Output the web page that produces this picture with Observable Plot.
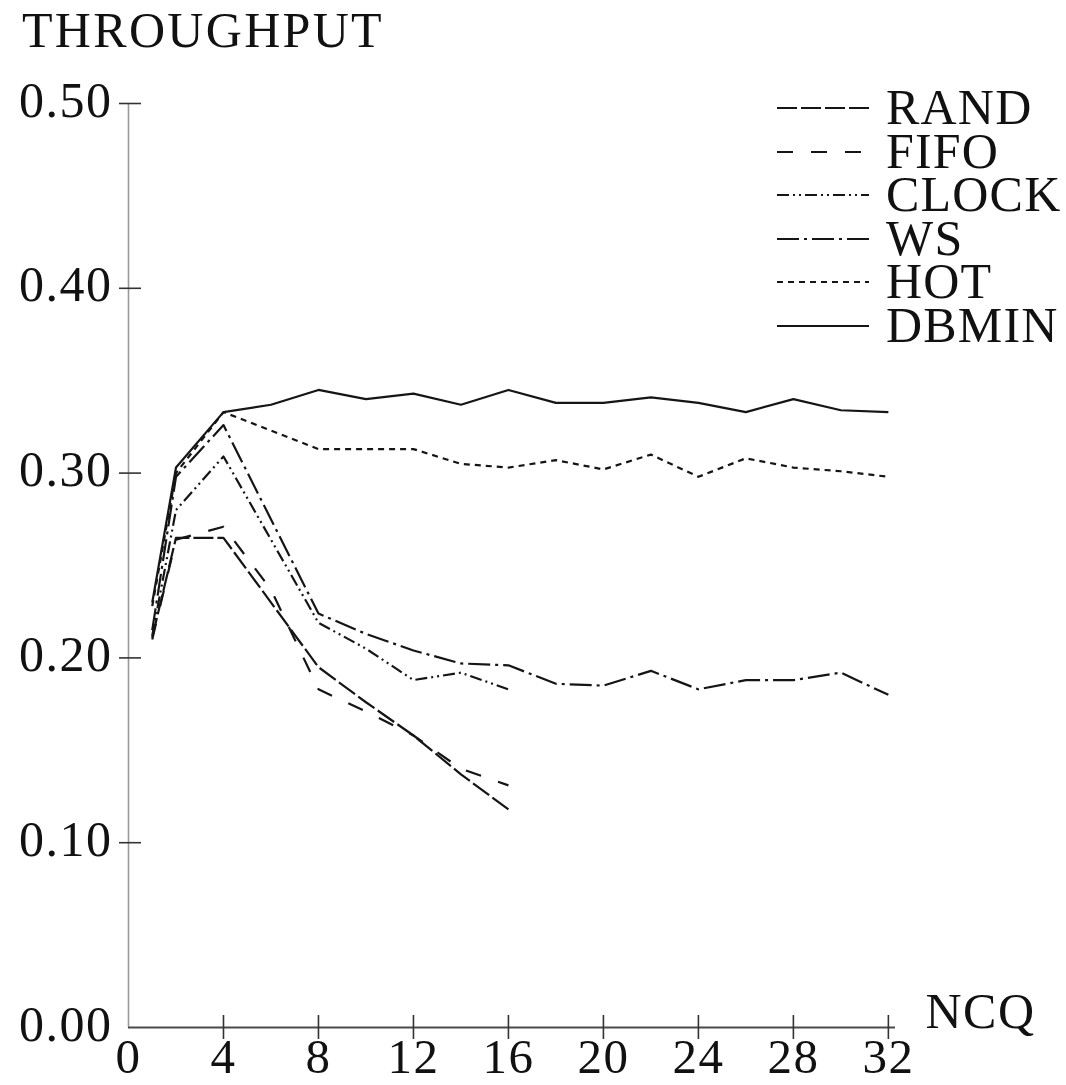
<!DOCTYPE html>
<html>
<head>
<meta charset="utf-8">
<script src="https://cdn.jsdelivr.net/npm/d3@7"></script>
<script src="https://cdn.jsdelivr.net/npm/@observablehq/plot@0.6"></script>
<style>
  body { margin: 0; background: #fff; }
  #wrap { position: relative; width: 1066px; height: 1085px; font-family: "Liberation Serif", "Times New Roman", serif; color: #111; background: #fff; }
  #title { height: 60px; box-sizing: border-box; padding: 5px 0 0 22px; font-size: 50px; line-height: 50px; letter-spacing: 2.3px; }
  .lg-line { position: absolute; left: 777px; width: 92px; height: 43px; }
  .lg-text { position: absolute; left: 886px; height: 43px; font-size: 50px; line-height: 43px; letter-spacing: 1.2px; white-space: nowrap; }
</style>
</head>
<body>
<div id="wrap">
  <div id="title">THROUGHPUT</div>
  <div id="chart"></div>
  <div id="legend"></div>
</div>
<script>
// ---- data ----
const policies = ["RAND", "FIFO", "CLOCK", "WS", "HOT", "DBMIN"];

const randX  = [1, 2, 4, 8, 10, 12, 14, 16];
const randY  = [0.211, 0.265, 0.265, 0.195, 0.176, 0.158, 0.137, 0.118];

const fifoX  = [1, 2, 4, 6, 8, 10, 12, 14, 16];
const fifoY  = [0.210, 0.264, 0.271, 0.237, 0.183, 0.171, 0.158, 0.140, 0.131];

const clockX = [1, 2, 4, 8, 10, 12, 14, 16];
const clockY = [0.212, 0.280, 0.309, 0.219, 0.205, 0.188, 0.192, 0.183];

const wsX    = [1, 2, 4, 8, 10, 12, 14, 16, 18, 20, 22, 24, 26, 28, 30, 32];
const wsY    = [0.215, 0.298, 0.326, 0.224, 0.213, 0.204, 0.197, 0.196, 0.186, 0.185, 0.193, 0.183, 0.188, 0.188, 0.192, 0.180];

const hotX   = [1, 2, 4, 8, 10, 12, 14, 16, 18, 20, 22, 24, 26, 28, 30, 32];
const hotY   = [0.228, 0.300, 0.333, 0.313, 0.313, 0.313, 0.305, 0.303, 0.307, 0.302, 0.310, 0.298, 0.308, 0.303, 0.301, 0.298];

const dbminX = [1, 2, 4, 6, 8, 10, 12, 14, 16, 18, 20, 22, 24, 26, 28, 30, 32];
const dbminY = [0.230, 0.303, 0.333, 0.337, 0.345, 0.340, 0.343, 0.337, 0.345, 0.338, 0.338, 0.341, 0.338, 0.333, 0.340, 0.334, 0.333];

const xTicks = [0, 4, 8, 12, 16, 20, 24, 28, 32];
const yTicks = [0, 0.1, 0.2, 0.3, 0.4, 0.5];
const xLabel = "NCQ";

// ---- styles ----
const dashes = {
  RAND: "20,4",
  FIFO: "16,18",
  CLOCK: "12,4,2,4,2,4",
  WS: "22,5,3,5",
  HOT: "6,5",
  DBMIN: null
};

const seriesXY = {
  RAND: [randX, randY], FIFO: [fifoX, fifoY], CLOCK: [clockX, clockY],
  WS: [wsX, wsY], HOT: [hotX, hotY], DBMIN: [dbminX, dbminY]
};

const rows = [];
for (const p of policies) {
  const [xs, ys] = seriesXY[p];
  xs.forEach((x, i) => rows.push({policy: p, ncq: x, throughput: ys[i]}));
}

const lineMarks = policies.map(p => Plot.line(rows.filter(d => d.policy === p), {
  x: "ncq", y: "throughput",
  stroke: "#151515", strokeWidth: 2.2,
  strokeDasharray: dashes[p] || undefined,
  strokeLinecap: "butt"
}));

const chart = Plot.plot({
  width: 1066,
  height: 1025,
  marginTop: 43,
  marginBottom: 58,
  marginLeft: 128,
  marginRight: 171,
  style: {fontFamily: '"Liberation Serif", "Times New Roman", serif', fontSize: "50px", color: "#111", background: "#fff", overflow: "visible", letterSpacing: "1.5px"},
  x: {domain: [0, 32.3]},
  y: {domain: [0, 0.5]},
  marks: [
    Plot.ruleX([0], {stroke: "#9a9a9a", strokeWidth: 1.6}),
    Plot.ruleY([0], {stroke: "#4a4a4a", strokeWidth: 2}),
    Plot.axisY(yTicks.filter(d => d > 0), {tickSize: 22, dx: 13, tickFormat: () => "", label: null, stroke: "#333", strokeWidth: 1.6}),
    Plot.axisY(yTicks, {tickSize: 0, tickPadding: 16, dy: -3, tickFormat: d3.format(".2f"), label: null, fontSize: 50}),
    Plot.axisX(xTicks.filter(d => d > 0), {tickSize: 24, dy: -12, tickFormat: () => "", label: null, stroke: "#333", strokeWidth: 1.6}),
    Plot.axisX(xTicks, {tickSize: 0, tickPadding: 11, tickFormat: d => String(d), label: null, fontSize: 49}),
    Plot.text([xLabel], {frameAnchor: "bottom-right", textAnchor: "start", dx: 30, text: d => d, fontSize: 50, fill: "#111"}),
    ...lineMarks
  ]
});
document.getElementById("chart").appendChild(chart);

// ---- legend (top right, over the plot) ----
const legend = d3.select("#legend");
policies.forEach((p, i) => {
  const top = 86 + i * 43.6;
  const svg = legend.append("svg").attr("class", "lg-line").style("top", top + "px")
    .attr("width", 92).attr("height", 43);
  const ln = svg.append("line").attr("x1", 0).attr("x2", 92).attr("y1", 22).attr("y2", 22)
    .attr("stroke", "#151515").attr("stroke-width", 2.2);
  if (dashes[p]) ln.attr("stroke-dasharray", dashes[p]);
  legend.append("div").attr("class", "lg-text").style("top", top + "px").text(p);
});
</script>
</body>
</html>
